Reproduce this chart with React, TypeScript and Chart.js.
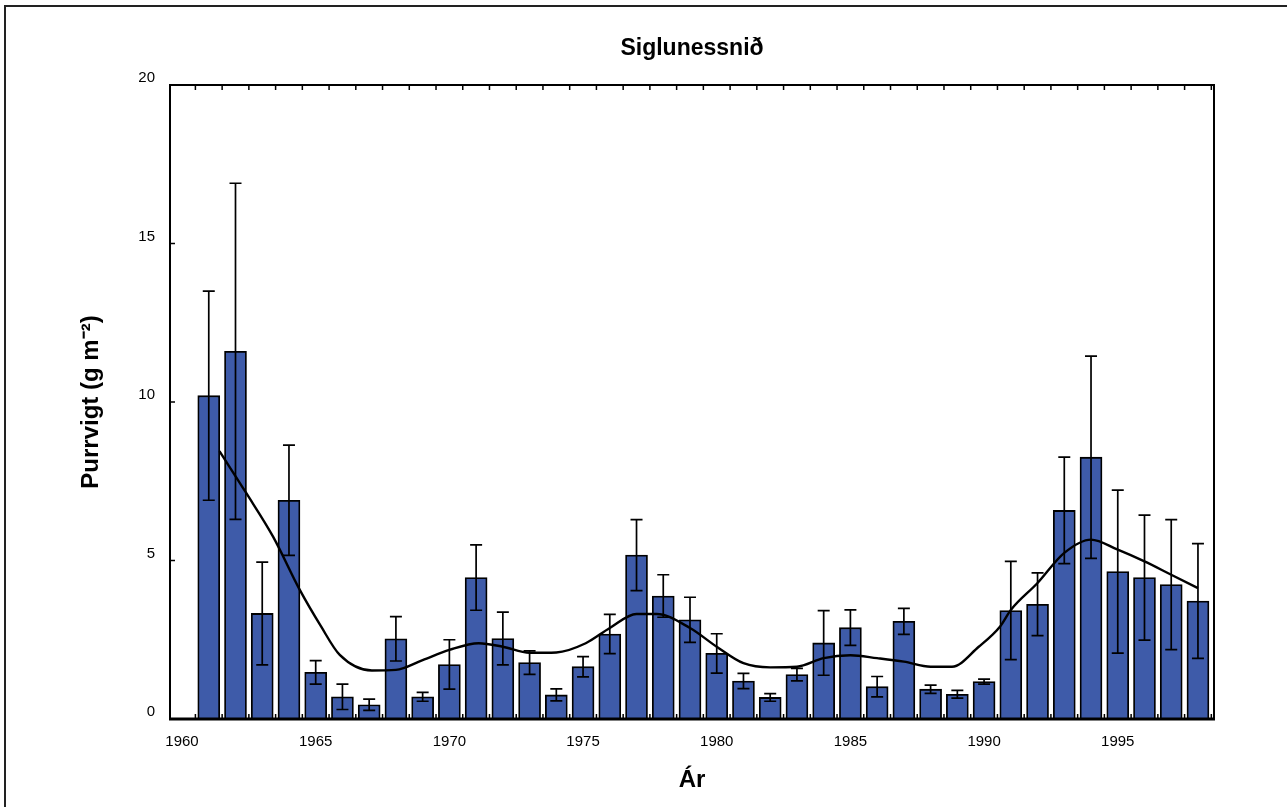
import React, { useEffect, useRef } from "react";
import { Chart, registerables } from "chart.js";

Chart.register(...registerables);

const title = "Siglunessnið";
const xTitle = "Ár";
const yTitle = "Purrvigt (g m⁻²)";

const years = [
  1961, 1962, 1963, 1964, 1965, 1966, 1967, 1968, 1969, 1970,
  1971, 1972, 1973, 1974, 1975, 1976, 1977, 1978, 1979, 1980,
  1981, 1982, 1983, 1984, 1985, 1986, 1987, 1988, 1989, 1990,
  1991, 1992, 1993, 1994, 1995, 1996, 1997, 1998,
];

const values = [
  10.2, 11.6, 3.33, 6.9, 1.47, 0.7, 0.45, 2.53, 0.7, 1.72,
  4.46, 2.54, 1.78, 0.76, 1.65, 2.68, 5.17, 3.88, 3.13, 2.07,
  1.2, 0.68, 1.4, 2.4, 2.88, 1.02, 3.08, 0.94, 0.78, 1.18,
  3.42, 3.62, 6.58, 8.26, 4.65, 4.46, 4.24, 3.72,
];

const errors = [
  3.3, 5.3, 1.62, 1.74, 0.37, 0.4, 0.18, 0.7, 0.14, 0.78,
  1.03, 0.83, 0.37, 0.19, 0.32, 0.62, 1.12, 0.67, 0.71, 0.62,
  0.24, 0.12, 0.2, 1.02, 0.56, 0.32, 0.41, 0.13, 0.12, 0.08,
  1.55, 0.99, 1.68, 3.19, 2.57, 1.97, 2.05, 1.81,
];

const trendYears = [
  1961.4, 1962.4, 1963.4, 1964.4, 1965.2, 1965.9, 1967.1, 1968.0, 1969.0, 1970.0,
  1971.1, 1972.0, 1973.0, 1974.0, 1975.1, 1976.0, 1977.0, 1977.75, 1979.0, 1980.0,
  1981.0, 1982.0, 1983.0, 1984.0, 1985.0, 1986.0, 1987.0, 1988.0, 1988.8, 1989.8,
  1990.6, 1991.0, 1992.0, 1993.0, 1994.0, 1995.0, 1996.0, 1997.0, 1998.0,
];

const trendValues = [
  8.45, 7.13, 5.76, 4.08, 2.92, 2.02, 1.53, 1.55, 1.86, 2.18,
  2.39, 2.28, 2.09, 2.1, 2.39, 2.87, 3.31, 3.31, 2.87, 2.28,
  1.76, 1.63, 1.65, 1.92, 2.01, 1.92, 1.81, 1.65, 1.65, 2.28,
  2.92, 3.44, 4.29, 5.24, 5.66, 5.34, 4.97, 4.55, 4.13,
];

const xTickLabels = [1960, 1965, 1970, 1975, 1980, 1985, 1990, 1995];
const yTickLabels = [0, 5, 10, 15, 20];

const FONT = "'Liberation Sans', Arial, Helvetica, sans-serif";

const framePlugin = {
  id: "frameAndErrors",
  afterDatasetsDraw(chart: any) {
    const ctx = chart.ctx;
    const xs = chart.scales.x;
    const ys = chart.scales.y;
    ctx.save();
    ctx.strokeStyle = "#000";
    ctx.lineWidth = 1.7;
    const cap = 6;
    years.forEach((yr, i) => {
      const px = xs.getPixelForValue(yr);
      const hi = ys.getPixelForValue(values[i] + errors[i]);
      const lo = ys.getPixelForValue(values[i] - errors[i]);
      ctx.beginPath();
      ctx.moveTo(px, hi);
      ctx.lineTo(px, lo);
      ctx.moveTo(px - cap, hi);
      ctx.lineTo(px + cap, hi);
      ctx.moveTo(px - cap, lo);
      ctx.lineTo(px + cap, lo);
      ctx.stroke();
    });
    ctx.restore();
  },
  afterDraw(chart: any) {
    const ctx = chart.ctx;
    const { left, right, top, bottom } = chart.chartArea;
    const xs = chart.scales.x;
    const ys = chart.scales.y;
    ctx.save();
    ctx.strokeStyle = "#000";
    ctx.lineWidth = 2;
    ctx.beginPath();
    ctx.moveTo(left, bottom);
    ctx.lineTo(left, top);
    ctx.lineTo(right, top);
    ctx.lineTo(right, bottom);
    ctx.stroke();
    ctx.lineWidth = 3;
    ctx.beginPath();
    ctx.moveTo(left - 1, bottom);
    ctx.lineTo(right + 1, bottom);
    ctx.stroke();
    ctx.lineWidth = 1.5;
    const bounds = years.map((y) => y - 0.5).concat([years[years.length - 1] + 0.5]);
    ctx.beginPath();
    bounds.forEach((b) => {
      const px = xs.getPixelForValue(b);
      if (px <= left + 2 || px >= right - 2) return;
      ctx.moveTo(px, top);
      ctx.lineTo(px, top + 5);
      ctx.moveTo(px, bottom);
      ctx.lineTo(px, bottom - 5);
    });
    yTickLabels.forEach((v) => {
      if (v === 0 || v === 20) return;
      const py = ys.getPixelForValue(v);
      ctx.moveTo(left, py);
      ctx.lineTo(left + 5, py);
    });
    ctx.stroke();
    ctx.restore();
  },
};

export default function App() {
  const ref = useRef<HTMLCanvasElement | null>(null);

  useEffect(() => {
    if (!ref.current) return;
    const chart = new Chart(ref.current, {
      type: "bar",
      data: {
        datasets: [
          {
            type: "line",
            data: trendYears.map((x, i) => ({ x, y: trendValues[i] })),
            borderColor: "#000",
            borderWidth: 2.4,
            pointRadius: 0,
            cubicInterpolationMode: "monotone",
            fill: false,
            order: 0,
          } as any,
          {
            type: "bar",
            data: years.map((x, i) => ({ x, y: values[i] })),
            backgroundColor: "#3E5BA9",
            borderColor: "#000",
            borderWidth: 1.8,
            barThickness: 22,
            order: 1,
          } as any,
        ],
      },
      options: {
        responsive: false,
        animation: false,
        layout: { padding: { left: 0, right: 73, top: 0, bottom: 0 } },
        plugins: {
          legend: { display: false },
          tooltip: { enabled: false },
          title: {
            display: true,
            text: title,
            fullSize: false,
            color: "#000",
            font: { family: FONT, size: 23, weight: "bold" },
            padding: { top: 35, bottom: 22.4 },
          },
        },
        scales: {
          x: {
            type: "linear",
            offset: false,
            bounds: "data",
            min: 1959.55,
            max: 1998.6,
            grid: { display: false, drawTicks: false, offset: false },
            border: { display: false },
            afterBuildTicks: (scale: any) => {
              scale.ticks = xTickLabels.map((v) => ({ value: v }));
            },
            afterFit: (scale: any) => {
              scale.height = 88;
            },
            ticks: {
              color: "#000",
              padding: 14,
              maxRotation: 0,
              autoSkip: false,
              font: { family: FONT, size: 15 },
              callback: (v: any) => String(v),
            },
            title: {
              display: true,
              text: xTitle,
              color: "#000",
              font: { family: FONT, size: 24, weight: "bold" },
              padding: { top: 4, bottom: 12.6 },
            },
          },
          y: {
            min: 0,
            max: 20,
            grid: { display: false, drawTicks: false },
            border: { display: false },
            afterBuildTicks: (scale: any) => {
              scale.ticks = yTickLabels.map((v) => ({ value: v }));
            },
            afterFit: (scale: any) => {
              scale.width = 170;
            },
            ticks: {
              color: "#000",
              padding: 15,
              labelOffset: -7,
              font: { family: FONT, size: 15 },
            },
            title: {
              display: true,
              text: yTitle,
              color: "#000",
              font: { family: FONT, size: 24, weight: "bold" },
              padding: { top: 76.6, bottom: 4 },
            },
          },
        },
      },
      plugins: [framePlugin],
    } as any);
    return () => chart.destroy();
  }, []);

  return (
    <div style={{ position: "fixed", left: 0, top: 0, width: 1287, height: 807, background: "#fff" }}>
      <canvas ref={ref} width={1287} height={807} style={{ display: "block", width: 1287, height: 807 }} />
      <div
        style={{
          position: "absolute",
          left: 4,
          top: 5,
          right: 0,
          bottom: 0,
          borderTop: "2px solid #222",
          borderLeft: "2px solid #222",
          pointerEvents: "none",
        }}
      />
    </div>
  );
}
